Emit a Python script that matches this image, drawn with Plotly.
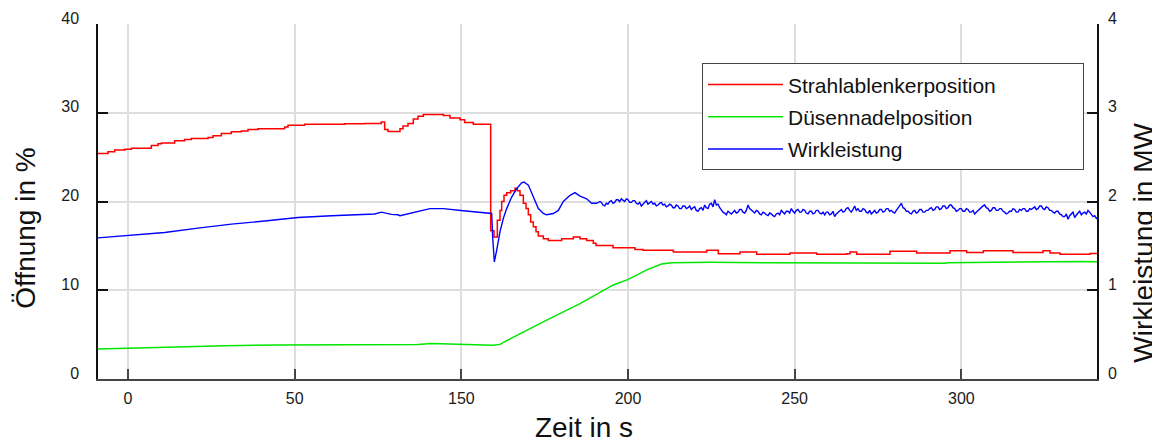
import plotly.graph_objects as go

# ---------------- data ----------------
tick_vals = [0, 50, 100, 150, 200, 250]
tick_text = ["0", "50", "150", "200", "250", "300"]

# Strahlablenkerposition (%), step signal
red_t = [-9, -6, -4, -1, 1, 7, 9, 10, 14, 17, 19, 24, 25.5, 28, 31, 34, 36, 39, 47, 48, 53, 65, 71, 76,
         77, 78, 81, 81.6, 82.5, 84, 85.6, 87, 88.6, 94.6, 96.6, 99.6, 101, 103.6,
         108.8, 109.8, 110.8, 111.6, 112.1, 112.8, 113.6, 114.8, 116.1, 116.8, 117.6, 118.6, 119.4,
         120.1, 120.8, 121.6, 122.4, 123.1, 124.6, 126.1, 130.1, 133.6, 135.6, 137.6, 139.6, 140.4,
         145.5, 152.1, 154.5, 163.6, 173.6, 177.1, 183.6, 188.6, 198.6, 206.6, 215.6, 216.6, 218.6,
         228.6, 236.6, 246.6, 251.6, 256.6, 265.5, 274.5, 276.6, 279.6, 288.6, 290.7]
red_v = [25.4, 25.6, 25.8, 25.9, 26.0, 26.3, 26.5, 26.6, 26.85, 27.0, 27.1, 27.2, 27.4, 27.65, 27.85, 27.95,
         28.1, 28.2, 28.4, 28.6, 28.7, 28.75, 28.8, 28.95,
         28.1, 27.9, 27.9, 28.2, 28.5, 28.8, 29.3, 29.6, 29.8, 29.7, 29.4, 29.2, 28.9, 28.7,
         16.7, 16.0, 17.9, 19.0, 20.0, 20.7, 21.0, 21.2, 21.5, 21.2, 20.7, 19.8, 19.2,
         18.5, 17.7, 17.15, 16.6, 16.1, 15.8, 15.6, 15.8, 16.0, 15.8, 15.6, 15.3, 15.05,
         14.8, 14.6, 14.5, 14.3, 14.5, 14.1, 14.3, 14.05, 14.2, 14.05, 14.1, 14.3, 14.05,
         14.4, 14.2, 14.45, 14.25, 14.45, 14.25, 14.45, 14.2, 14.05, 14.15, 14.15]

# Düsennadelposition (%)
green_t = [-9, 4, 11, 29, 45, 87, 91, 100, 108, 109.5, 111.6, 115.5, 125.6, 135.6, 145.6, 149.9,
           152.6, 155.6, 160.1, 163.1, 174.6, 192, 193, 245, 246, 286, 290.7]
green_v = [3.38, 3.52, 3.64, 3.75, 3.83, 3.9, 4.0, 3.9, 3.85, 3.8, 3.9, 4.7, 6.64, 8.5, 10.6, 11.2,
           11.7, 12.3, 12.95, 13.1, 13.15, 13.05, 13.1, 13.05, 13.1, 13.25, 13.2]

# Wirkleistung (MW) - smooth part up to t = 141.6
blue_t = [-9, 0, 11, 21, 31, 41, 51, 61, 74, 76, 79, 81, 81.6, 90.6, 94.6, 100.6, 108.6, 109.1, 109.4,
          109.9, 110.6, 111.6, 112.6, 113.6, 115.1, 116.6, 118.1, 118.8, 120.1, 121.1, 122.1, 123.1,
          124.6, 125.6, 127.6, 129.1, 130.6, 132.6, 134.1, 135.6, 137.6, 139.1, 140.6, 141.6]
blue_v = [1.59, 1.62, 1.65, 1.70, 1.745, 1.78, 1.82, 1.84, 1.86, 1.88, 1.855, 1.85, 1.84, 1.92, 1.92,
          1.895, 1.86, 1.865, 1.60, 1.32, 1.45, 1.66, 1.81, 1.92, 2.05, 2.145, 2.21, 2.22, 2.185, 2.09,
          2.0, 1.92, 1.865, 1.85, 1.865, 1.90, 2.0, 2.07, 2.10, 2.06, 2.03, 1.98, 1.98, 2.0]

# Wirkleistung (MW) - noisy part, sampled every 0.5 s from t = 142 to 290.5, then end point
blue_noisy_start = 142.0
blue_noisy_step = 0.5
blue_noisy_v = [
    1.99, 1.96, 1.95, 1.98, 1.97, 2.00, 2.01, 1.98, 1.99, 2.02,
    2.02, 2.00, 2.03, 2.01, 2.00, 2.03, 2.02, 1.99, 1.99, 2.01,
    2.01, 1.98, 1.97, 1.99, 1.95, 1.97, 1.99, 2.01, 1.97, 1.99,
    2.00, 1.97, 1.98, 1.95, 1.96, 1.98, 1.99, 1.96, 1.97, 1.94,
    1.95, 1.97, 1.96, 1.93, 1.93, 1.96, 1.95, 1.92, 1.92, 1.95,
    1.95, 1.92, 1.93, 1.95, 1.91, 1.93, 1.94, 1.90, 1.89, 1.92,
    1.93, 1.90, 1.96, 1.93, 1.92, 1.97, 1.98, 1.94, 2.02, 1.96,
    1.97, 1.93, 1.90, 1.88, 1.87, 1.85, 1.89, 1.87, 1.86, 1.88,
    1.90, 1.87, 1.88, 1.91, 1.91, 1.88, 1.87, 1.90, 1.96, 1.92,
    1.90, 1.88, 1.87, 1.90, 1.89, 1.86, 1.85, 1.88, 1.87, 1.85,
    1.84, 1.87, 1.86, 1.84, 1.83, 1.86, 1.87, 1.85, 1.90, 1.88,
    1.86, 1.89, 1.89, 1.87, 1.92, 1.89, 1.87, 1.90, 1.91, 1.88,
    1.88, 1.91, 1.90, 1.87, 1.86, 1.89, 1.89, 1.86, 1.87, 1.90,
    1.90, 1.87, 1.86, 1.88, 1.85, 1.88, 1.88, 1.85, 1.86, 1.89,
    1.83, 1.86, 1.88, 1.90, 1.91, 1.88, 1.89, 1.92, 1.93, 1.90,
    1.88, 1.91, 1.95, 1.90, 1.92, 1.89, 1.89, 1.92, 1.91, 1.88,
    1.87, 1.90, 1.86, 1.88, 1.90, 1.87, 1.88, 1.91, 1.91, 1.88,
    1.89, 1.92, 1.92, 1.89, 1.90, 1.88, 1.87, 1.90, 1.93, 1.96,
    1.98, 1.93, 1.92, 1.89, 1.89, 1.87, 1.86, 1.89, 1.90, 1.87,
    1.88, 1.91, 1.91, 1.88, 1.88, 1.90, 1.90, 1.92, 1.93, 1.90,
    1.91, 1.94, 1.94, 1.91, 1.92, 1.95, 1.95, 1.92, 1.93, 1.96,
    1.96, 1.93, 1.92, 1.89, 1.90, 1.92, 1.92, 1.89, 1.89, 1.92,
    1.91, 1.88, 1.88, 1.90, 1.86, 1.88, 1.90, 1.92, 1.93, 1.95,
    1.96, 1.93, 1.92, 1.89, 1.90, 1.93, 1.93, 1.90, 1.90, 1.92,
    1.92, 1.89, 1.88, 1.86, 1.87, 1.89, 1.89, 1.92, 1.91, 1.88,
    1.88, 1.91, 1.90, 1.92, 1.92, 1.89, 1.89, 1.92, 1.91, 1.93,
    1.94, 1.91, 1.92, 1.95, 1.95, 1.92, 1.91, 1.94, 1.93, 1.90,
    1.90, 1.88, 1.87, 1.89, 1.89, 1.86, 1.85, 1.83, 1.83, 1.86,
    1.80, 1.84, 1.86, 1.88, 1.82, 1.85, 1.87, 1.89, 1.85, 1.87,
    1.88, 1.86, 1.90, 1.88, 1.86, 1.83, 1.84, 1.81,
]
blue_end_t = [290.7]
blue_end_v = [1.82]

blue_all_t = (blue_t
              + [blue_noisy_start + blue_noisy_step * i for i in range(len(blue_noisy_v))]
              + blue_end_t)
blue_all_v = blue_v + blue_noisy_v + blue_end_v

legend_names = ["Strahlablenkerposition", "Düsennadelposition", "Wirkleistung"]

# ---------------- figure ----------------
FONT = "Liberation Sans, Arial, Helvetica, sans-serif"
PAD = "\u00a0" * 14  # widen the legend box like the reference

fig = go.Figure()
fig.add_trace(go.Scatter(x=red_t, y=red_v, name=legend_names[0] + PAD, mode="lines",
                         line=dict(color="#ff0000", width=1.5, shape="hv"), legendgroup="a"))
fig.add_trace(go.Scatter(x=green_t, y=green_v, name=legend_names[1], mode="lines",
                         line=dict(color="#00e600", width=1.5), legendgroup="b"))
fig.add_trace(go.Scatter(x=blue_all_t, y=blue_all_v, name=legend_names[2], mode="lines", yaxis="y2",
                         line=dict(color="#0000ff", width=1.4), legendgroup="c"))

# page body has an 8 px margin: figure is shrunk by 8 px so that the plot lands where the reference has it
fig.update_layout(
    width=1152, height=438,
    margin=dict(l=90, r=63, t=16, b=67, autoexpand=False),
    paper_bgcolor="white", plot_bgcolor="white",
    font=dict(family=FONT, size=16, color="#1a1a1a"),
    xaxis=dict(range=[-9, 290.7], tickvals=tick_vals, ticktext=tick_text,
               ticks="inside", ticklen=10, tickwidth=1.5, tickcolor="#444",
               showline=True, linecolor="#444", linewidth=1.5,
               showgrid=True, gridcolor="#dedede", gridwidth=1.5, zeroline=False,
               ticklabelstandoff=4, tickfont=dict(size=16), automargin=False),
    yaxis=dict(range=[0, 40], dtick=10, ticks="inside", ticklen=10, tickwidth=1.5,
               tickcolor="#111", showline=True, linecolor="#111", linewidth=1.5,
               showgrid=True, gridcolor="#dedede", gridwidth=1.5, zeroline=False,
               ticklabelstandoff=14, ticklabelshift=-6, tickfont=dict(size=16),
               automargin=False),
    yaxis2=dict(range=[0, 4], dtick=1, overlaying="y", side="right", ticks="inside",
                ticklen=10, tickwidth=1.5, tickcolor="#111", showline=True,
                linecolor="#111", linewidth=1.5, showgrid=False, zeroline=False,
                ticklabelstandoff=6, ticklabelshift=-6, tickfont=dict(size=16),
                automargin=False),
    legend=dict(x=0.6046, y=0.8894, xanchor="left", yanchor="top",
                bordercolor="#444", borderwidth=1, bgcolor="white",
                font=dict(size=21, color="#111"), itemwidth=75, tracegroupgap=2),
    showlegend=True,
)

fig.add_annotation(text="Öffnung in %", xref="paper", yref="paper", x=-0.072, y=0.4236,
                   textangle=-90, showarrow=False, font=dict(size=28, color="#111"),
                   xanchor="center", yanchor="middle")
fig.add_annotation(text="Wirkleistung in MW", xref="paper", yref="paper", x=1.047, y=0.384,
                   textangle=-90, showarrow=False, font=dict(size=28, color="#111"),
                   xanchor="center", yanchor="middle")
fig.add_annotation(text="Zeit in s", xref="paper", yref="paper", x=0.4865, y=-0.185,
                   showarrow=False, font=dict(size=28, color="#111"),
                   xanchor="center", yanchor="bottom")

fig.write_html("out.html")
